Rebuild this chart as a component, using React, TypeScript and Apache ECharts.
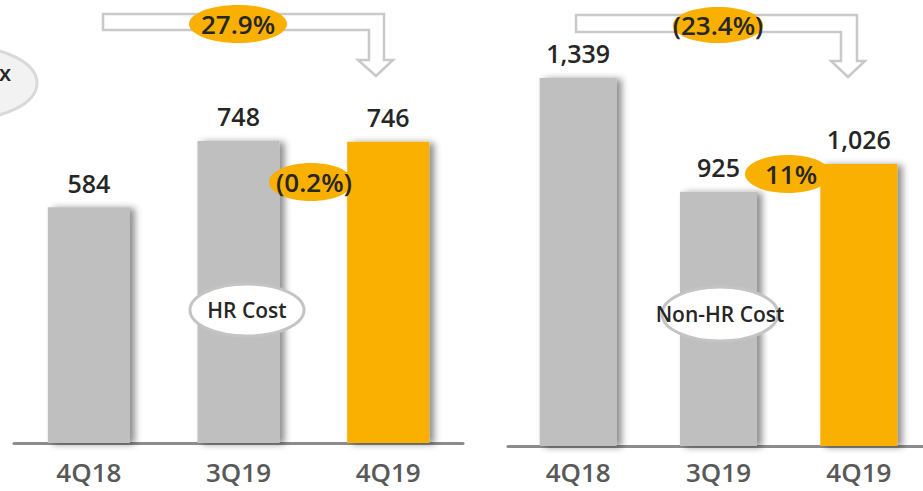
import React, { useEffect, useRef } from "react";
import * as echarts from "echarts";

// Quarterly cost figures
const categories = ["4Q18", "3Q19", "4Q19"];
const hrCost = [584, 748, 746];
const nonHrCost = [1339, 925, 1026];
const highlightIndex = 2;

// Change annotations
const hrYoY = "27.9%";
const hrQoQ = "(0.2%)";
const nonHrYoY = "(23.4%)";
const nonHrQoQ = "11%";

const GREY = "#BFBFBF";
const ORANGE = "#F9B000";
const FONT = "'Open Sans', 'Noto Sans', sans-serif";

// the canvas runs slightly past the right edge of the window so the
// right-hand axis line bleeds off the page
const CANVAS_W = 935;
const CANVAS_H = 491;

const barData = (values: number[]) =>
  values.map((v, i) => ({
    value: v,
    itemStyle: { color: i === highlightIndex ? ORANGE : GREY },
  }));

const barSeries = (values: number[], idx: number, width: number) => ({
  type: "bar",
  xAxisIndex: idx,
  yAxisIndex: idx,
  barWidth: width,
  data: barData(values),
  itemStyle: {
    shadowColor: "rgba(0,0,0,0.45)",
    shadowBlur: 7,
    shadowOffsetX: 5,
    shadowOffsetY: 1,
  },
  label: {
    show: true,
    position: "top",
    distance: 12,
    fontFamily: FONT,
    fontSize: 25,
    fontWeight: 600,
    color: "#262626",
    formatter: (p: any) => Number(p.value).toLocaleString("en-US"),
  },
});

const xAxisCfg = (idx: number, margin: number) => ({
  type: "category",
  gridIndex: idx,
  data: categories,
  axisTick: { show: false },
  axisLine: { lineStyle: { color: "#8C8C8C", width: 3 } },
  axisLabel: {
    margin,
    fontFamily: FONT,
    fontSize: 26,
    fontWeight: 600,
    color: "#595959",
  },
});

const yAxisCfg = (idx: number, max: number) => ({
  type: "value",
  gridIndex: idx,
  min: 0,
  max,
  show: false,
  splitLine: { show: false },
});

const pctBubble = (cx: number, cy: number, rx: number, ry: number, text: string, tx: number) => [
  {
    type: "ellipse",
    z: 100,
    shape: { cx, cy, rx, ry },
    style: { fill: ORANGE, stroke: "none" },
  },
  {
    type: "text",
    z: 101,
    x: tx,
    y: cy,
    style: {
      text,
      align: "center",
      verticalAlign: "middle",
      fontFamily: FONT,
      fontSize: 26,
      fontWeight: 600,
      fill: "#262626",
    },
  },
];

const tagBubble = (cx: number, cy: number, rx: number, ry: number, text: string) => [
  {
    type: "ellipse",
    z: 100,
    shape: { cx, cy, rx, ry },
    style: { fill: "#FFFFFF", stroke: "#C4C4C4", lineWidth: 3 },
  },
  {
    type: "text",
    z: 101,
    x: cx,
    y: cy,
    style: {
      text,
      align: "center",
      verticalAlign: "middle",
      fontFamily: FONT,
      fontSize: 21,
      fontWeight: 600,
      fill: "#262626",
    },
  },
];

const bentArrow = (pts: number[][]) => ({
  type: "polygon",
  z: 99,
  shape: { points: pts },
  style: { fill: "#FFFFFF", stroke: "#C9C9C9", lineWidth: 2.5 },
});

export default function App() {
  const ref = useRef<HTMLDivElement>(null);

  useEffect(() => {
    if (!ref.current) return;
    const chart = echarts.init(ref.current, null, { renderer: "svg" });
    chart.setOption({
      animation: false,
      backgroundColor: "#FFFFFF",
      grid: [
        { left: 14, right: CANVAS_W - 463, top: 46, bottom: 48 },
        { left: 508, right: CANVAS_W - 929, top: 46, bottom: 45 },
      ],
      xAxis: [xAxisCfg(0, 16), xAxisCfg(1, 13)],
      yAxis: [yAxisCfg(0, 983), yAxisCfg(1, 1455)],
      series: [barSeries(hrCost, 0, 82), barSeries(nonHrCost, 1, 77)],
      graphic: [
        // partially visible tag on the far left
        {
          type: "ellipse",
          z: 100,
          shape: { cx: -33, cy: 83, rx: 70, ry: 36 },
          style: { fill: "#F2F2F2", stroke: "#D9D9D9", lineWidth: 3 },
        },
        {
          type: "text",
          z: 101,
          x: -1,
          y: 72,
          style: {
            text: "x",
            align: "left",
            verticalAlign: "middle",
            fontFamily: FONT,
            fontSize: 22,
            fontWeight: 600,
            fill: "#262626",
          },
        },
        bentArrow([
          [103, 14], [384, 14], [384, 60], [393, 60], [376, 76],
          [358, 60], [369, 60], [369, 30], [103, 30],
        ]),
        bentArrow([
          [576, 15], [857, 15], [857, 61], [865, 61], [848, 77],
          [831, 61], [841, 61], [841, 32], [576, 32],
        ]),
        ...pctBubble(238, 24, 49, 19, hrYoY, 238),
        ...pctBubble(718, 25, 45, 18, nonHrYoY, 718),
        ...pctBubble(311, 182, 42, 19, hrQoQ, 314),
        ...pctBubble(788, 174, 43, 19, nonHrQoQ, 791),
        ...tagBubble(247, 310, 57, 26, "HR Cost"),
        ...tagBubble(720, 314, 58, 27, "Non-HR Cost"),
      ],
    });
    return () => chart.dispose();
  }, []);

  return (
    <div
      ref={ref}
      style={{ position: "fixed", left: 0, top: 0, width: CANVAS_W, height: CANVAS_H }}
    />
  );
}
